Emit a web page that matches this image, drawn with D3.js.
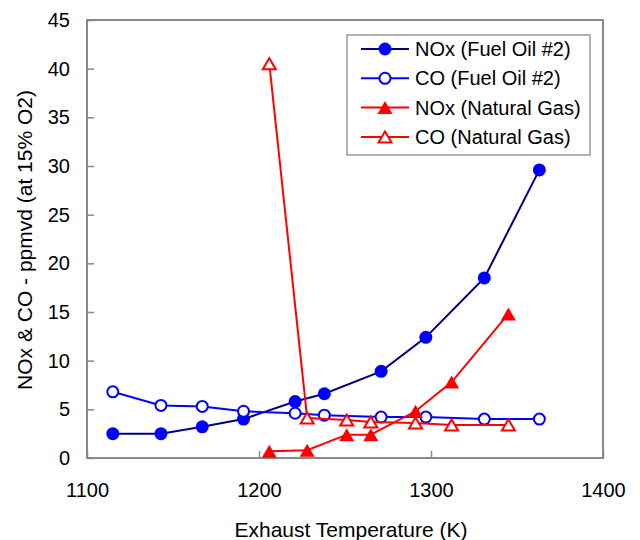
<html>
<head>
<meta charset="utf-8">
<style>
  body{ margin:0; background:#fff; }
  text{ font-family:"Liberation Sans", Arial, sans-serif; fill:#000; }
</style>
<script src="https://d3js.org/d3.v7.min.js"></script>
</head>
<body>
<svg id="chart" width="640" height="540"></svg>
<script>
// data
let oilTemp = [1115, 1143, 1167, 1191, 1221, 1238, 1271, 1297, 1331, 1363];
let noxOil  = [2.5, 2.5, 3.2, 4.0, 5.8, 6.6, 8.9, 12.4, 18.5, 29.6];
let coOil   = [6.8, 5.4, 5.3, 4.8, 4.6, 4.4, 4.2, 4.2, 4.0, 4.0];
let gasTemp = [1206, 1228, 1251, 1265, 1291, 1312, 1345];
let noxGas  = [0.7, 0.8, 2.4, 2.4, 4.8, 7.8, 14.8];
let coGas   = [40.5, 4.1, 3.9, 3.7, 3.6, 3.4, 3.4];
let xTicks = [1100, 1200, 1300, 1400];
let yTicks = [0, 5, 10, 15, 20, 25, 30, 35, 40, 45];
let legendNames = ["NOx (Fuel Oil #2)", "CO (Fuel Oil #2)", "NOx (Natural Gas)", "CO (Natural Gas)"];

let svg = d3.select("#chart");
let L = 87, R = 603, T = 20, B = 458;

let x = d3.scaleLinear().domain([1100, 1400]).range([L, R]);
let y = d3.scaleLinear().domain([0, 45]).range([B, T]);

// axes (ticks point inward)
let xa = svg.append("g").attr("transform", "translate(0," + B + ")")
  .call(d3.axisBottom(x).tickValues(xTicks).tickFormat(d3.format("d"))
    .tickSizeInner(-7).tickSizeOuter(0).tickPadding(25));
let ya = svg.append("g").attr("transform", "translate(" + L + ",0)")
  .call(d3.axisLeft(y).tickValues(yTicks).tickFormat(d3.format("d"))
    .tickSizeInner(-7).tickSizeOuter(0).tickPadding(17));
[xa, ya].forEach(function(a){
  a.select(".domain").remove();
  a.selectAll("line").attr("stroke", "#888").attr("stroke-width", 1.5);
  a.selectAll("text").attr("font-size", 20).attr("fill", "#000")
    .attr("font-family", "Liberation Sans, Arial, sans-serif");
});

svg.append("rect").attr("x", L).attr("y", T).attr("width", R - L).attr("height", B - T)
  .attr("fill", "none").attr("stroke", "#888").attr("stroke-width", 2);

// titles
svg.append("text").attr("x", 351).attr("y", 537).attr("text-anchor", "middle")
  .attr("font-size", 21).text("Exhaust Temperature (K)");
svg.append("text").attr("transform", "translate(32,240) rotate(-90)").attr("text-anchor", "middle")
  .attr("font-size", 21).text("NOx & CO - ppmvd (at 15% O2)");

function tri(w, h){
  return "M0," + (-h / 2) + "L" + (w / 2) + "," + (h / 2) + "L" + (-w / 2) + "," + (h / 2) + "Z";
}

let series = [
  {xs: oilTemp, ys: noxOil, line: "#000080", mark: "circle", fill: "#0000ff", stroke: "#0000ff"},
  {xs: oilTemp, ys: coOil,  line: "#0000ff", mark: "circle-open", fill: "#fff", stroke: "#0000ff"},
  {xs: gasTemp, ys: noxGas, line: "#ff0000", mark: "tri", fill: "#ff0000", stroke: "#ff0000"},
  {xs: gasTemp, ys: coGas,  line: "#ff0000", mark: "tri-open", fill: "#fff", stroke: "#ff0000"}
];

function drawMark(g, s){
  if (s.mark == "circle") {
    g.append("circle").attr("r", 6.5).attr("fill", s.fill);
  } else if (s.mark == "circle-open") {
    g.append("circle").attr("r", 5.5).attr("fill", s.fill).attr("stroke", s.stroke).attr("stroke-width", 2);
  } else if (s.mark == "tri") {
    g.append("path").attr("d", tri(15, 13)).attr("fill", s.fill);
  } else {
    g.append("path").attr("d", tri(13, 11)).attr("fill", s.fill).attr("stroke", s.stroke).attr("stroke-width", 2);
  }
}

let line = d3.line().x(function(d){ return x(d[0]); }).y(function(d){ return y(d[1]); });

series.forEach(function(s){
  let pts = s.xs.map(function(v, i){ return [v, s.ys[i]]; });
  svg.append("path").attr("d", line(pts)).attr("fill", "none")
    .attr("stroke", s.line).attr("stroke-width", 2);
  pts.forEach(function(p){
    let g = svg.append("g").attr("transform", "translate(" + x(p[0]) + "," + y(p[1]) + ")");
    drawMark(g, s);
  });
});

// legend
let lg = svg.append("g");
lg.append("rect").attr("x", 347).attr("y", 35).attr("width", 243).attr("height", 120)
  .attr("fill", "#fff").attr("stroke", "#666").attr("stroke-width", 1);
series.forEach(function(s, i){
  let yy = 49 + i * 29.3;
  lg.append("line").attr("x1", 361).attr("x2", 409).attr("y1", yy).attr("y2", yy)
    .attr("stroke", s.line).attr("stroke-width", 2);
  let g = lg.append("g").attr("transform", "translate(385," + yy + ")");
  drawMark(g, s);
  lg.append("text").attr("x", 415).attr("y", yy + 7).attr("font-size", 20).text(legendNames[i]);
});
</script>
</body>
</html>
